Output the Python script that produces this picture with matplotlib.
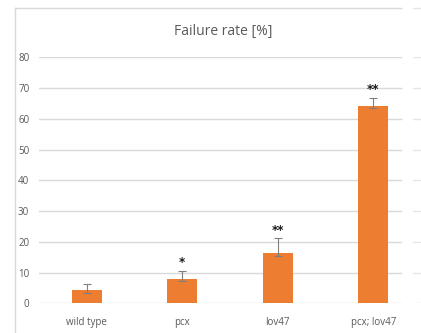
import matplotlib
matplotlib.use("Agg")
import matplotlib.pyplot as plt
from matplotlib.lines import Line2D
import numpy as np

categories = ["wild type", "pcx", "lov47", "pcx; lov47"]
values = [4.4, 7.8, 16.5, 64.3]
err_low = [0.9, 0.7, 1.1, 0.9]
err_high = [2.0, 2.7, 4.6, 2.4]
stars = ["", "*", "**", "**"]
yticks = [0, 10, 20, 30, 40, 50, 60, 70, 80]

W, H = 421, 333
fig = plt.figure(figsize=(W / 100, H / 100), dpi=100)
fig.patch.set_facecolor("white")

ax_l, ax_r = 39, 421
ax_b, ax_t = H - 303.3, H - 57.3
ax = fig.add_axes([ax_l / W, ax_b / H, (ax_r - ax_l) / W, (ax_t - ax_b) / H])
ax.set_xlim(-0.5, 3.5)
ax.set_ylim(0, 80)
for s in ax.spines.values():
    s.set_visible(False)
ax.patch.set_alpha(0)

grid_c = "#d9d9d9"
g1 = (401 - ax_l) / (ax_r - ax_l)
g2 = (413 - ax_l) / (ax_r - ax_l)
for t in yticks:
    ax.axhline(t, xmin=0, xmax=g1, color=grid_c, lw=1.0, zorder=0)
    ax.axhline(t, xmin=g2, xmax=1, color="#e6e6e6", lw=1.0, zorder=0)

x = np.arange(len(categories))
ax.bar(x, values, width=0.31, color="#ED7D31", zorder=2)
ax.errorbar(x, values, yerr=[err_low, err_high], fmt="none", ecolor="#7f7f7f",
            elinewidth=0.8, capsize=3, capthick=0.8, zorder=3)

for xi, v, eh, s in zip(x, values, err_high, stars):
    if s:
        ax.text(xi, v + eh + 0.6, s, ha="center", va="bottom", fontsize=8.5,
                fontweight="bold", color="#1a1a1a", family="DejaVu Sans")

ax.set_yticks(yticks)
ax.set_xticks(x)
ax.set_xticklabels(categories)
ax.tick_params(axis="both", length=0, colors="#595959", labelsize=7)
ax.tick_params(axis="y", pad=7)
ax.tick_params(axis="x", pad=10)
for lab in ax.get_xticklabels() + ax.get_yticklabels():
    lab.set_family("Open Sans")
    lab.set_color("#595959")

fig.text(223 / W, 1 - 31 / H, "Failure rate [%]", ha="center", va="center",
         fontsize=10, color="#595959", family="Open Sans")

# chart frame
fx = 14.7
fy = H - 8.3
fig.add_artist(Line2D([fx / W, fx / W], [0, fy / H], color=grid_c, lw=1.0))
fig.add_artist(Line2D([fx / W, 401 / W], [fy / H, fy / H], color=grid_c, lw=1.0))
fig.add_artist(Line2D([413 / W, 1], [fy / H, fy / H], color="#e6e6e6", lw=1.0))

fig.savefig("out.png", dpi=100)
